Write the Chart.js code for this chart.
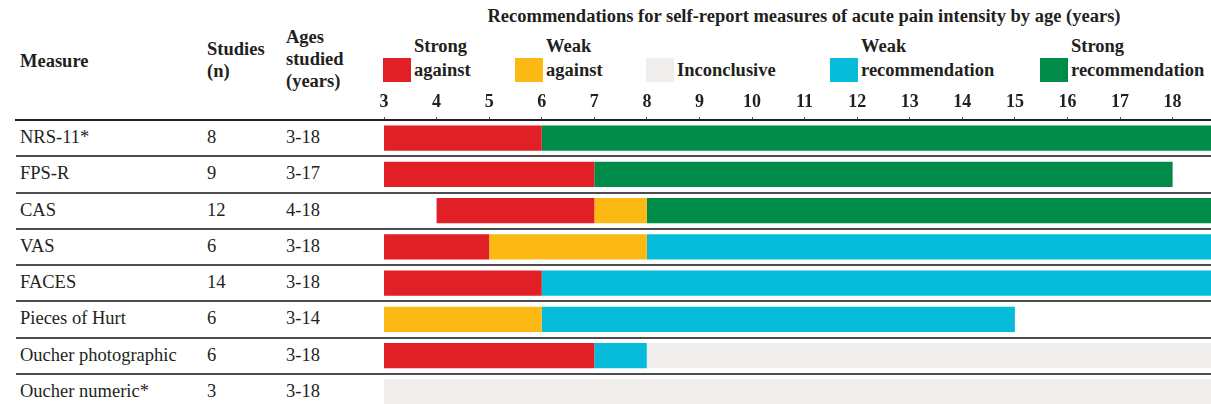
<!DOCTYPE html>
<html>
<head>
<meta charset="utf-8">
<script src="https://cdn.jsdelivr.net/npm/chart.js@4.4.1/dist/chart.umd.min.js"></script>
<style>
  html, body { margin: 0; padding: 0; background: #fff; overflow: hidden; }
  body { width: 1211px; height: 404px; position: relative; font-family: 'Liberation Serif', 'Times New Roman', serif; color: #231f20; }
  #wrap { position: absolute; left: 0; top: 0; width: 1211px; height: 410px; }
  .txt { position: absolute; font-size: 18.5px; line-height: 22px; white-space: pre; }
  .bold { font-weight: bold; }
  .title { position: absolute; top: 5px; left: 384px; width: 840px; text-align: center; font-weight: bold; font-size: 18.5px; line-height: 22px; white-space: nowrap; }
  .leg { position: absolute; top: 35px; height: 50px; }
  .leg .sq { position: absolute; left: 0; top: 23px; width: 28px; height: 24px; }
  .leg .lab { position: absolute; left: 31px; top: 0; font-weight: bold; font-size: 18.5px; line-height: 23.5px; white-space: pre; }
</style>
</head>
<body>
<div class="title">Recommendations for self-report measures of acute pain intensity by age (years)</div>
<div class="txt bold" style="left:20px; top:50px;">Measure</div>
<div class="txt bold" style="left:207px; top:38px;">Studies
(n)</div>
<div class="txt bold" style="left:286px; top:26px;">Ages
studied
(years)</div>
<div id="legend"></div>
<div id="rows"></div>
<div id="wrap"><canvas id="chart"></canvas></div>

<script>
const measures = ['NRS-11*', 'FPS-R', 'CAS', 'VAS', 'FACES', 'Pieces of Hurt', 'Oucher photographic', 'Oucher numeric*'];
const studies = [8, 9, 12, 6, 14, 6, 6, 3];
const agesStudied = ['3-18', '3-17', '4-18', '3-18', '3-18', '3-14', '3-18', '3-18'];
const ageTicks = [3, 4, 5, 6, 7, 8, 9, 10, 11, 12, 13, 14, 15, 16, 17, 18];

// [from age, to age) per measure, null = no segment
const strongAgainst = [[3, 6], [3, 7], [4, 7], [3, 5], [3, 6], null, [3, 7], null];
const weakAgainst = [null, null, [7, 8], [5, 8], null, [3, 6], null, null];
const inconclusive = [null, null, null, null, null, null, [8, 19], [3, 19]];
const weakRecommendation = [null, null, null, [8, 19], [6, 19], [6, 15], [7, 8], null];
const strongRecommendation = [[6, 19], [7, 18], [8, 19], null, null, null, null, null];

const seriesLabels = ['Strong\nagainst', 'Weak\nagainst', '\nInconclusive', 'Weak\nrecommendation', 'Strong\nrecommendation'];
const seriesColors = ['#e01f26', '#fdb913', '#efeeec', '#06bcda', '#008c48'];
const seriesData = [strongAgainst, weakAgainst, inconclusive, weakRecommendation, strongRecommendation];

const legendLeft = [383, 515, 646, 830, 1040];
const serif = "'Liberation Serif', 'Times New Roman', serif";

const chart = new Chart(document.getElementById('chart'), {
    type: 'bar',
    data: {
        labels: measures,
        datasets: seriesData.map((d, i) => ({
            label: seriesLabels[i],
            data: d,
            backgroundColor: seriesColors[i],
            borderWidth: 0,
            grouped: false,
            barPercentage: 0.69,
            categoryPercentage: 1
        }))
    },
    options: {
        indexAxis: 'y',
        responsive: true,
        maintainAspectRatio: false,
        animation: false,
        layout: { padding: { left: 16, right: 0, top: 0, bottom: 0 } },
        plugins: { legend: { display: false }, tooltip: { enabled: false } },
        scales: {
            x: {
                type: 'linear',
                position: 'top',
                min: -4,
                max: 18.73,
                afterFit: (scale) => { scale.height = 120; },
                border: { display: true, color: '#231f20', width: 2 },
                grid: { drawOnChartArea: false, drawTicks: true, tickLength: 3, color: '#555' },
                ticks: {
                    stepSize: 1,
                    includeBounds: false,
                    maxRotation: 0,
                    autoSkip: false,
                    padding: 4,
                    color: '#231f20',
                    font: { family: serif, size: 18, weight: 'bold' },
                    callback: (v) => ageTicks.includes(v) ? String(v) : null
                }
            },
            y: {
                afterFit: (scale) => { scale.width = 0; },
                border: { display: false },
                grid: { offset: true, drawTicks: false, color: '#4d4d4d', lineWidth: 2 },
                ticks: { display: false }
            }
        }
    }
});

// table text, placed on the y scale rows
const rows = document.getElementById('rows');
const yScale = chart.scales.y;
measures.forEach((m, i) => {
    const cy = yScale.getPixelForValue(i);
    [[20, m], [207, String(studies[i])], [286, agesStudied[i]]].forEach(([x, t]) => {
        const el = document.createElement('div');
        el.className = 'txt';
        el.style.left = x + 'px';
        el.style.top = (cy - 12) + 'px';
        el.textContent = t;
        rows.appendChild(el);
    });
});

// legend from the datasets
const legend = document.getElementById('legend');
chart.data.datasets.forEach((ds, i) => {
    const item = document.createElement('div');
    item.className = 'leg';
    item.style.left = legendLeft[i] + 'px';
    const sq = document.createElement('div');
    sq.className = 'sq';
    sq.style.background = ds.backgroundColor;
    const lab = document.createElement('div');
    lab.className = 'lab';
    lab.textContent = ds.label;
    item.appendChild(sq);
    item.appendChild(lab);
    legend.appendChild(item);
});
</script>
</body>
</html>
